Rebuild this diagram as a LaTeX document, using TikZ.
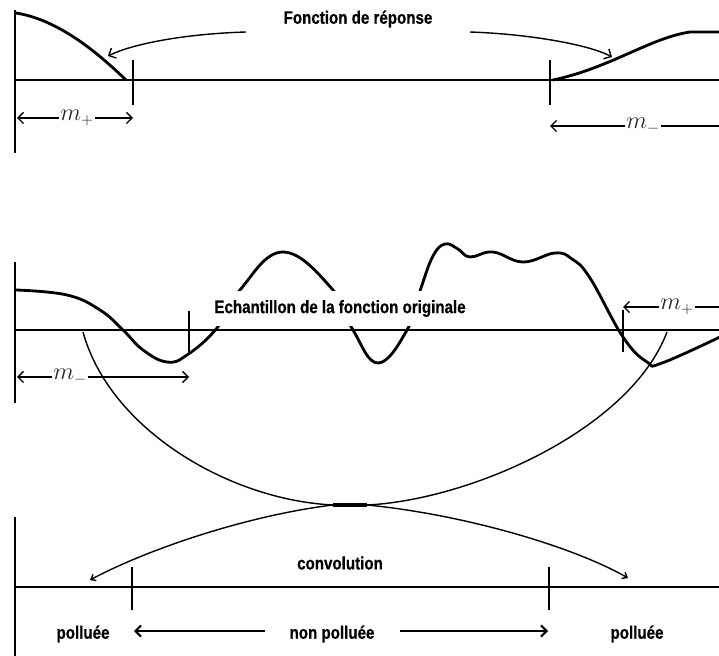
\documentclass[tikz,border=0pt]{standalone}
\usepackage{fontspec}
\newfontfamily\lblfont[FakeStretch=0.84, FakeBold=0.6]{Liberation Sans}
\usetikzlibrary{arrows.meta,positioning}

\tikzset{
  axisline/.style={line width=1pt},
  tickmark/.style={line width=1pt},
  signal/.style={line width=2pt, line join=round, line cap=round},
  convarc/.style={line width=1pt},
  barb/.style={-{Straight Barb[length=4pt,width=8pt]}},
  dimline/.style={line width=1pt, barb},
  txtlbl/.style={font=\lblfont\bfseries\fontsize{12.8}{14}\selectfont, inner sep=1pt},
  mlbl/.style={font=\fontsize{16}{17}\selectfont, text=black!85, inner sep=1pt},
}

\begin{document}
\begin{tikzpicture}[x=0.025cm, y=-0.025cm]
    \clip (0,0) rectangle (719,656);

    % --- fonction de reponse
    \draw[axisline] (15,10) -- (15,153);
    \draw[axisline] (15,80) -- (725,80);
    \draw[signal] (16,13) .. controls (60,20) and (100,55) .. (126,80);
    \draw[signal] (553,80) .. controls (610,68) and (650,38) .. (690,32) -- (725,32);
    \draw[tickmark] (133,60) -- (133,105);
    \draw[tickmark] (550,60) -- (550,105);

    \node[txtlbl] (resp) at (358,19) {Fonction de réponse};
    \coordinate (respL) at (246,32);
    \coordinate (respR) at (470,32);
    \draw[convarc, barb] (respL) .. controls (180,34) and (130,45) .. (108,56);
    \draw[convarc, barb] (respR) .. controls (530,34) and (590,45) .. (612,57);

    \coordinate (mpA) at (17,118);
    \coordinate (mpB) at (133,118);
    \node[mlbl] (mp1) at (77,118) {$m_+$};
    \draw[dimline] (mp1.west) -- (mpA);
    \draw[dimline] (mp1.east) -- (mpB);

    \coordinate (mmA) at (550,126);
    \coordinate (mmB) at (727,126);
    \node[mlbl] (mm1) at (643,126) {$m_-$};
    \draw[dimline] (mm1.west) -- (mmA);
    \draw[dimline] (mm1.east) -- (mmB);

    % --- echantillon
    \draw[axisline] (15,262) -- (15,403);
    \draw[axisline] (15,330) -- (725,330);
    \draw[signal] plot[smooth, tension=0.7] coordinates {
        (16,290) (67,295) (100,310) (123,330) (143,350) (167,362) (187,355)
        (217,328) (240,290) (283,252) (333,290) (353,330) (378,363) (407,330)
        (421,288) (433,256) (445,244) (458,249) (470,257) (493,252) (523,262)
        (555,253) (572,259) (590,278) (623,337) (647,362) (662,363) (722,336)};
    \node[txtlbl, fill=white, minimum height=24.8pt, inner xsep=2pt] (ech) at (340,308.5)
        {Echantillon de la fonction originale};
    \draw[tickmark] (189,311) -- (189,355);
    \draw[tickmark] (623,310) -- (623,352);

    \coordinate (mmC) at (17,377);
    \coordinate (mmD) at (189,377);
    \node[mlbl] (mm2) at (70,377) {$m_-$};
    \draw[dimline] (mm2.west) -- (mmC);
    \draw[dimline] (mm2.east) -- (mmD);

    \coordinate (mpC) at (623,307);
    \coordinate (mpD) at (727,307);
    \node[mlbl] (mp2) at (677,307) {$m_+$};
    \draw[dimline] (mp2.west) -- (mpC);
    \draw[dimline] (mp2.east) -- (mpD);

    % --- arcs de convolution
    \coordinate (xL) at (333,505);
    \coordinate (xR) at (367,505);
    \draw[convarc] (83,332) .. controls (110,430) and (230,500) .. (xL);
    \draw[convarc] (667,332) .. controls (630,430) and (470,500) .. (xR);
    \draw[line width=2.5pt] (xL) -- (xR);
    \draw[convarc, -{Straight Barb[length=3pt,width=5pt]}] (xL) .. controls (250,515) and (150,548) .. (90,580);
    \draw[convarc, -{Straight Barb[length=3pt,width=5pt]}] (xR) .. controls (460,514) and (570,545) .. (628,578);

    % --- convolution
    \draw[axisline] (15,517) -- (15,660);
    \draw[axisline] (15,587) -- (725,587);
    \draw[tickmark] (132,567) -- (132,610);
    \draw[tickmark] (549,567) -- (549,610);
    \node[txtlbl] (conv) at (340,563) {convolution};

    \node[txtlbl] (polL) at (83,634) {polluée};
    \node[txtlbl] (nonp) at (332,634) {non polluée};
    \node[txtlbl] (polR) at (637,634) {polluée};
    \coordinate (npL) at (265,631);
    \coordinate (npR) at (400,631);
    \coordinate (tkL) at (134,631);
    \coordinate (tkR) at (548,631);
    \draw[line width=1.5pt, barb] (npL) -- (tkL);
    \draw[line width=1.5pt, barb] (npR) -- (tkR);
\end{tikzpicture}
\end{document}
